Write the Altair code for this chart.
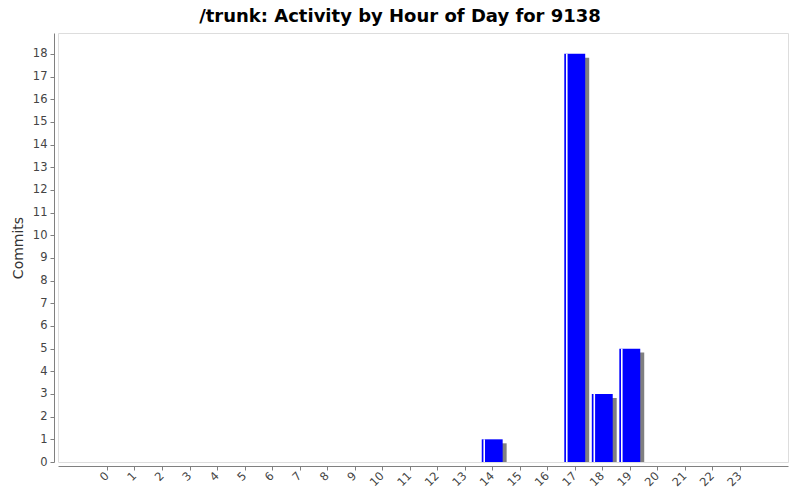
import altair as alt
import pandas as pd

hours = list(range(24))
commits = [0, 0, 0, 0, 0, 0, 0, 0, 0, 0, 0, 0, 0, 0, 1, 0, 0, 18, 3, 5, 0, 0, 0, 0]
title_text = "/trunk: Activity by Hour of Day for 9138"
y_title = "Commits"

df = pd.DataFrame({"hour": hours, "commits": commits})

HALF = 0.38      # half bar width, in hour units
SH_X = 0.145     # shadow shift in hour units
SH_Y = 0.176     # shadow drop in commit units
HL = 0.29        # highlight stripe offset

xscale = alt.Scale(domain=[-1.78, 24.75], nice=False, zero=False)
yscale = alt.Scale(domain=[0, 18.92], nice=False)

base = alt.Chart(df).transform_filter("datum.commits > 0").transform_calculate(
    x0="datum.hour - %f" % HALF,
    x1="datum.hour + %f" % HALF,
    sx0="datum.hour - %f + %f" % (HALF, SH_X),
    sx1="datum.hour + %f + %f" % (HALF, SH_X),
    sy="datum.commits - %f" % SH_Y,
    hx="datum.hour - %f" % HL,
    zero="0",
)

xaxis = alt.Axis(
    values=hours, format="d", labelAngle=315, labelAlign="right", labelBaseline="middle",
    labelFont="DejaVu Sans", labelFontSize=11.5, labelColor="#444444", labelPadding=4,
    domainColor="#808080", tickColor="#808080", tickSize=4, offset=4, title=None,
    grid=False, labelOverlap=False, labelFlush=False,
)
yaxis = alt.Axis(
    values=list(range(19)), format="d", labelFont="DejaVu Sans", labelFontSize=11.5,
    labelColor="#444444", labelPadding=3, domainColor="#808080", tickColor="#808080",
    tickSize=4, offset=4, grid=False, title=y_title, titleFont="DejaVu Sans",
    titleFontSize=14, titleFontWeight="normal", titleColor="#333333", titlePadding=7,
    labelOverlap=False, labelFlush=False,
)

shadow = base.mark_rect(color="#808080").encode(
    x=alt.X("sx0:Q", scale=xscale, axis=xaxis, title=None),
    x2="sx1:Q",
    y=alt.Y("zero:Q", scale=yscale, axis=yaxis, title=y_title),
    y2="sy:Q",
)
bars = base.mark_rect(color="#0000FF").encode(
    x=alt.X("x0:Q", scale=xscale, axis=xaxis, title=None),
    x2="x1:Q",
    y=alt.Y("zero:Q", scale=yscale, axis=yaxis, title=y_title),
    y2="commits:Q",
)
hl = base.mark_rule(color="#FFFFFF", strokeWidth=1.6).encode(
    x=alt.X("hx:Q", scale=xscale, axis=xaxis, title=None),
    y=alt.Y("zero:Q", scale=yscale, axis=yaxis, title=y_title),
    y2="commits:Q",
)

chart = alt.layer(shadow, bars, hl).properties(
    width=730,
    height=429,
    autosize=alt.AutoSizeParams(type="none"),
    padding={"left": 50, "top": 25, "right": 4, "bottom": 30},
    title=alt.TitleParams(
        text=title_text, font="DejaVu Sans", fontSize=18, fontWeight="bold",
        color="#000000", anchor="middle", frame="group", dx=-23, offset=7,
    ),
).configure_view(stroke="#777777", strokeWidth=1).configure(background="#FFFFFF")

chart.save("out.html", embed_options={"renderer": "svg", "actions": False})
